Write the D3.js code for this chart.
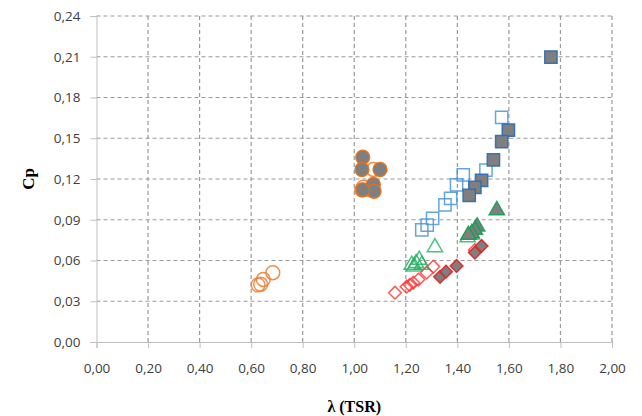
<!DOCTYPE html>
<html>
<head>
<meta charset="utf-8">
<script src="https://cdn.jsdelivr.net/npm/d3@7"></script>
<style>
  body { margin: 0; background: #fff; }
  svg { display: block; }
</style>
</head>
<body>
<svg id="chart" width="642" height="416"></svg>
<script>
// series values, [lambda, Cp]
const circlesOpen = [[0.684, 0.051], [0.647, 0.046], [0.637, 0.0425], [0.627, 0.042],
  [1.074, 0.127], [1.035, 0.114], [1.029, 0.112], [1.061, 0.112]];
const circlesFilled = [[1.033, 0.136], [1.030, 0.127], [1.100, 0.127], [1.074, 0.116], [1.077, 0.111], [1.033, 0.112]];
const squaresOpen = [[1.572, 0.1654], [1.511, 0.1266], [1.423, 0.123], [1.397, 0.1156], [1.374, 0.1058],
  [1.352, 0.1009], [1.304, 0.091], [1.283, 0.086], [1.262, 0.0825]];
const squaresFilled = [[1.763, 0.2098], [1.598, 0.156], [1.572, 0.1475], [1.540, 0.134], [1.494, 0.119], [1.468, 0.1139], [1.446, 0.108]];
const trianglesOpen = [[1.223, 0.0567], [1.240, 0.058], [1.252, 0.0604], [1.262, 0.0567], [1.233, 0.0555],
  [1.313, 0.0697], [1.440, 0.077], [1.455, 0.079]];
const trianglesFilled = [[1.553, 0.097], [1.477, 0.085], [1.468, 0.0825], [1.456, 0.080], [1.443, 0.0788]];
const diamondsOpen = [[1.158, 0.0363], [1.203, 0.0407], [1.215, 0.042], [1.229, 0.0437], [1.249, 0.046],
  [1.281, 0.051], [1.307, 0.0555], [1.468, 0.0677]];
const diamondsFilled = [[1.333, 0.048], [1.356, 0.0518], [1.397, 0.056], [1.468, 0.0658], [1.494, 0.0707]];

const xTicks = [0, 0.2, 0.4, 0.6, 0.8, 1.0, 1.2, 1.4, 1.6, 1.8, 2.0];
const yTicks = [0, 0.03, 0.06, 0.09, 0.12, 0.15, 0.18, 0.21, 0.24];

const svg = d3.select('#chart');
const margin = { top: 16, right: 30, bottom: 74, left: 96.5 };
const width = 642 - margin.left - margin.right;
const height = 416 - margin.top - margin.bottom;

const x = d3.scaleLinear().domain([0, 2]).range([0, width]);
const y = d3.scaleLinear().domain([0, 0.24]).range([height, 0]);
const fmt = d3.format('.2f');
const comma = (d) => fmt(d).replace('.', ',');

const g = svg.append('g').attr('transform', `translate(${margin.left},${margin.top})`);

// dashed grid
g.append('g').selectAll('line').data(yTicks.slice(1)).join('line')
  .attr('x1', 0).attr('x2', width)
  .attr('y1', (d) => y(d)).attr('y2', (d) => y(d))
  .attr('stroke', '#9a9a9a').attr('stroke-width', 1.2).attr('stroke-dasharray', '4,3');
g.append('g').selectAll('line').data(xTicks.slice(1)).join('line')
  .attr('y1', 0).attr('y2', height)
  .attr('x1', (d) => x(d)).attr('x2', (d) => x(d))
  .attr('stroke', '#9a9a9a').attr('stroke-width', 1.2).attr('stroke-dasharray', '4,3');

const xAxis = g.append('g')
  .attr('transform', `translate(0,${height})`)
  .call(d3.axisBottom(x).tickValues(xTicks).tickFormat(comma).tickSize(6).tickPadding(15));
const yAxis = g.append('g')
  .call(d3.axisLeft(y).tickValues(yTicks).tickFormat(comma).tickSize(6).tickPadding(10));

[xAxis, yAxis].forEach((a) => {
  a.select('.domain').attr('stroke', '#bfbfbf');
  a.selectAll('.tick line').attr('stroke', '#bfbfbf');
  a.selectAll('text').attr('fill', '#404040')
    .style('font-family', '"Open Sans", sans-serif').style('font-size', '13.5px');
});

svg.append('text')
  .attr('x', margin.left + width / 2).attr('y', 412)
  .attr('text-anchor', 'middle')
  .style('font-family', '"Liberation Serif", serif').style('font-weight', 'bold').style('font-size', '16px')
  .text('λ (TSR)');
svg.append('text')
  .attr('transform', 'translate(34,179) rotate(-90)')
  .attr('text-anchor', 'middle')
  .style('font-family', '"Liberation Serif", serif').style('font-weight', 'bold').style('font-size', '17px')
  .text('Cp');

function plot(data, type, size, stroke, fill, opacity) {
  g.append('g').selectAll('path').data(data).join('path')
    .attr('d', d3.symbol().type(type).size(size))
    .attr('transform', (d) => `translate(${x(d[0])},${y(d[1])})`)
    .attr('fill', fill)
    .attr('stroke', stroke)
    .attr('stroke-width', 1.5)
    .attr('stroke-opacity', opacity);
}

const diamond = { draw(ctx, s) { const r = Math.sqrt(s) / 2; ctx.moveTo(0, -r); ctx.lineTo(r, 0); ctx.lineTo(0, r); ctx.lineTo(-r, 0); ctx.closePath(); } };

plot(diamondsOpen, diamond, 160, '#ff3030', 'none', 0.8);
plot(diamondsFilled, diamond, 160, '#e02020', '#7f7f7f', 0.9);
plot(trianglesOpen, d3.symbolTriangle, 100, '#20b060', 'none', 0.8);
plot(trianglesFilled, d3.symbolTriangle, 100, '#10a050', '#7f7f7f', 0.9);
plot(circlesOpen, d3.symbolCircle, 150, '#ed7d31', 'none', 0.85);
plot(circlesFilled, d3.symbolCircle, 150, '#e07020', '#7f7f7f', 0.9);
plot(squaresOpen, d3.symbolSquare, 150, '#4a95d8', 'none', 0.85);
plot(squaresFilled, d3.symbolSquare, 150, '#2e6fb5', '#7f7f7f', 0.95);
</script>
</body>
</html>
